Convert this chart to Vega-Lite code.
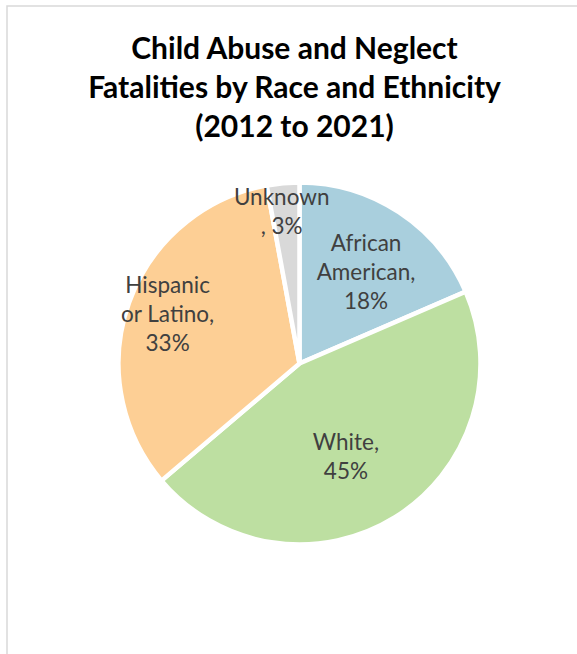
{
  "$schema": "https://vega.github.io/schema/vega-lite/v6.json",
  "width": 585,
  "height": 715,
  "autosize": {"type": "none"},
  "padding": {"left": 7, "top": 6, "right": 0, "bottom": 0},
  "background": "#ffffff",
  "view": {"stroke": "#d9d9d9", "strokeWidth": 1.5},
  "config": {
    "text": {"font": "Lato"}
  },
  "title": {
    "text": ["Child Abuse and Neglect", "Fatalities by Race and Ethnicity", "(2012 to 2021)"],
    "font": "Lato",
    "fontSize": 30,
    "fontWeight": "bold",
    "color": "#000000",
    "lineHeight": 39,
    "anchor": "middle",
    "baseline": "alphabetic",
    "offset": -160.5,
    "dx": -5
  },
  "data": {
    "values": [
      {"order": 1, "cat": "African American", "pct": 18.5, "label": "African\nAmerican,\n18%"},
      {"order": 2, "cat": "White", "pct": 45.3, "label": "White,\n45%"},
      {"order": 3, "cat": "Hispanic or Latino", "pct": 33.3, "label": "Hispanic\nor Latino,\n33%"},
      {"order": 4, "cat": "Unknown", "pct": 2.9, "label": "Unknown\n, 3%"}
    ]
  },
  "encoding": {
    "theta": {"field": "pct", "type": "quantitative", "stack": true},
    "order": {"field": "order", "type": "quantitative"}
  },
  "layer": [
    {
      "mark": {"type": "arc", "outerRadius": 181, "stroke": "#ffffff", "strokeWidth": 4.5},
      "encoding": {
        "color": {
          "field": "cat",
          "type": "nominal",
          "scale": {
            "domain": ["African American", "White", "Hispanic or Latino", "Unknown"],
            "range": ["#a9cfdd", "#bddfa1", "#fdcf95", "#d9d9d9"]
          },
          "legend": null
        }
      }
    },
    {
      "mark": {"type": "text", "radius": 113, "dx": 4.5, "dy": -25, "fontSize": 22.5, "lineHeight": 29, "lineBreak": "\n", "fill": "#404040", "align": "center", "baseline": "middle"},
      "encoding": {"text": {"condition": {"test": "datum.cat === 'African American'", "field": "label"}, "value": ""}}
    },
    {
      "mark": {"type": "text", "radius": 105, "dx": -9, "dy": -9.5, "fontSize": 22.5, "lineHeight": 29, "lineBreak": "\n", "fill": "#404040", "align": "center", "baseline": "middle"},
      "encoding": {"text": {"condition": {"test": "datum.cat === 'White'", "field": "label"}, "value": ""}}
    },
    {
      "mark": {"type": "text", "radius": 140, "dy": -30, "fontSize": 22.5, "lineHeight": 29, "lineBreak": "\n", "fill": "#404040", "align": "center", "baseline": "middle"},
      "encoding": {"text": {"condition": {"test": "datum.cat === 'Hispanic or Latino'", "field": "label"}, "value": ""}}
    },
    {
      "mark": {"type": "text", "radius": 152, "dx": -4, "dy": -14.5, "fontSize": 22.5, "lineHeight": 29, "lineBreak": "\n", "fill": "#404040", "align": "center", "baseline": "middle"},
      "encoding": {"text": {"condition": {"test": "datum.cat === 'Unknown'", "field": "label"}, "value": ""}}
    }
  ]
}
